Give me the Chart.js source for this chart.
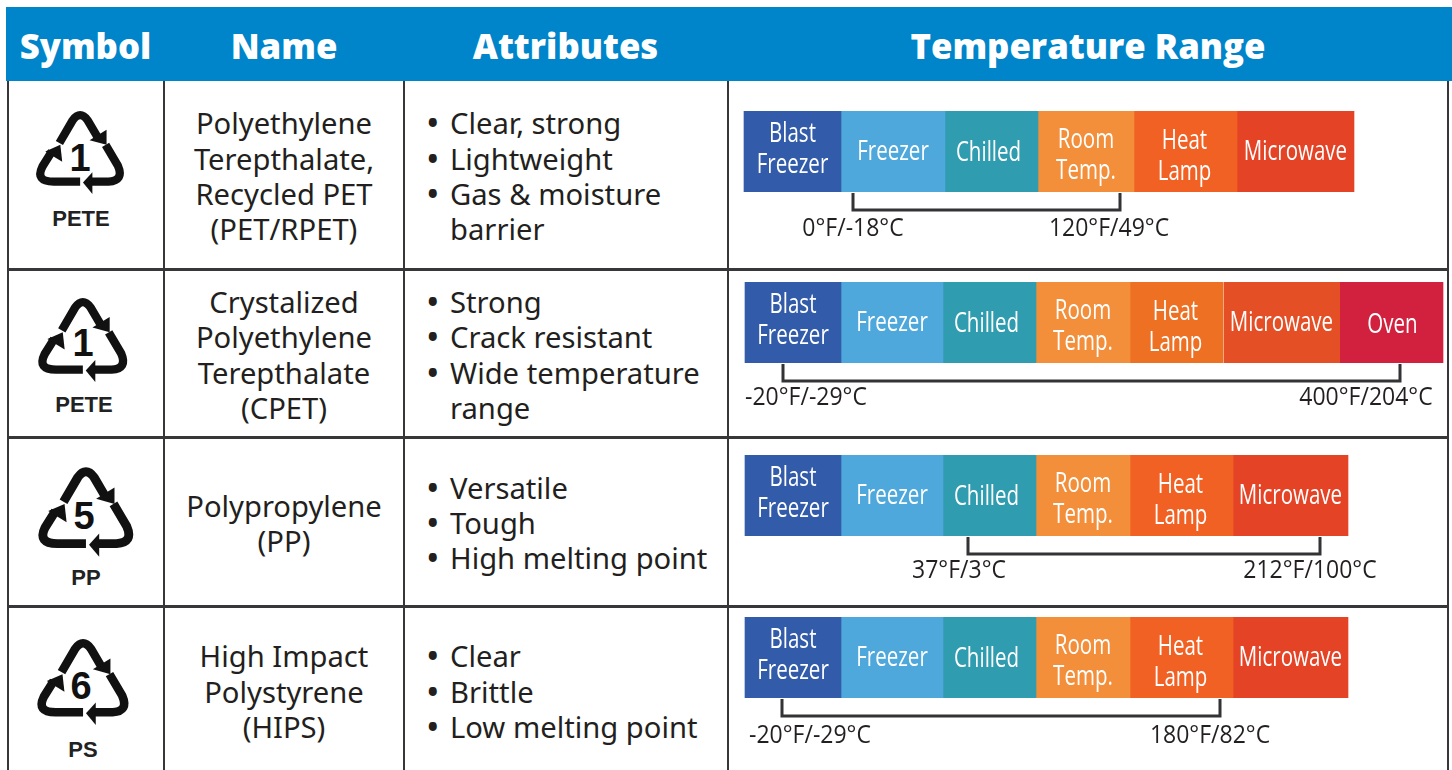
<!DOCTYPE html>
<html>
<head>
<meta charset="utf-8">
<title>Plastic temperature ranges</title>
<script src="https://cdn.jsdelivr.net/npm/chart.js@4"></script>
<style>
  html, body { margin: 0; padding: 0; background: #fff; overflow: hidden; }
  #page { position: relative; width: 1452px; height: 770px; overflow: hidden; font-family: "Noto Sans", sans-serif; color: #231f20; }
  #page div, #page canvas, #page svg { position: absolute; }
  .rule { background: #37373a; }
  .head { color: #fff; font-family: "Open Sans", sans-serif; font-weight: 800; font-size: 34.7px; line-height: 40px; height: 40px; top: 26px; white-space: nowrap; text-align: center; }
  .cell { font-size: 29.2px; line-height: 36px; height: 36px; white-space: nowrap; }
  .center { text-align: center; }
</style>
</head>
<body>
<div id="page">
  <svg width="0" height="0" style="left:0;top:0">
    <symbol id="recycle" viewBox="30 105 105 95" overflow="visible">
      <g fill="none" stroke="#111" stroke-width="8.8" stroke-linejoin="round">
        <path d="M58 144 L72 120 Q80 109 88 120 L98 137"/>
        <path d="M107 146 L120 168 Q127 184 110 185 L92 185"/>
        <path d="M80 185 L52 185 Q32 185 40 169 L50 153"/>
      </g>
      <g fill="#111">
        <path d="M108 130 L90 141 L108 146 Z"/>
        <path d="M83 186 L93 175 L93 198 Z"/>
        <path d="M43 153 L59 146 L61 164 Z"/>
      </g>
    </symbol>
  </svg>
</div>
<script>
// temperature zones, left to right
const zones = ["Blast Freezer", "Freezer", "Chilled", "Room Temp.", "Heat Lamp", "Microwave", "Oven"];
const zoneColors = ["#325ba9", "#4ea8dc", "#2f9daf", "#f38f3b", "#f16123", "#e54326", "#d2213e"];

// table columns
const headers = ["Symbol", "Name", "Attributes", "Temperature Range"];
const codes = ["1", "1", "5", "6"];
const symbolNames = ["PETE", "PETE", "PP", "PS"];
const names = [
  ["Polyethylene", "Terepthalate,", "Recycled PET", "(PET/RPET)"],
  ["Crystalized", "Polyethylene", "Terepthalate", "(CPET)"],
  ["Polypropylene", "(PP)"],
  ["High Impact", "Polystyrene", "(HIPS)"],
];
const attributes = [
  ["• Clear, strong", "• Lightweight", "• Gas & moisture", "barrier"],
  ["• Strong", "• Crack resistant", "• Wide temperature", "range"],
  ["• Versatile", "• Tough", "• High melting point"],
  ["• Clear", "• Brittle", "• Low melting point"],
];

// width of each zone in every row
const petWidths = [97, 104, 93, 96, 103, 117];
const cpetWidths = [96, 102, 93, 94, 93, 117, 103];
const ppWidths = [96, 102, 93, 94, 103, 115];
const hipsWidths = [96, 102, 93, 94, 103, 115];
const rowWidths = [petWidths, cpetWidths, ppWidths, hipsWidths];

// usable range on the same strip scale, and its end labels
const rangeStarts = [109, 38, 223, 37];
const rangeEnds = [376, 655, 575, 475];
const rangeLow = ["0°F/-18°C", "-20°F/-29°C", "37°F/3°C", "-20°F/-29°C"];
const rangeHigh = ["120°F/49°C", "400°F/204°C", "212°F/100°C", "180°F/82°C"];

// layout only
const page = document.getElementById("page");
const barTops = [111, 282, 455, 617];
const stripLefts = [744, 745, 745, 745];
const lowShift = [0, 23, -9, 28];
const highShift = [-11, -34, -10, -10];
const labelTops = [229, 398, 571, 736];
const zoneNudge = [-1.5, 0.5, 2, 4.5, 5.5, 0.5, 3];
const zoneSlide = [0, 0, -3, 0, -1, 0, 1];
const canvasLeft = 729;
const canvasWidth = 718;
const barHeight = 81;
const canvasHeight = 135;

function place(className, text, left, top, width, height) {
  const el = document.createElement("div");
  el.className = className;
  if (text) el.textContent = text;
  el.style.left = left + "px";
  el.style.top = top + "px";
  if (width) el.style.width = width + "px";
  if (height) el.style.height = height + "px";
  page.appendChild(el);
  return el;
}

function drawTable() {
  const head = place("", "", 6, 7, 1446, 74);
  head.style.background = "#0085ca";
  place("head center", headers[0], 7, 26, 157);
  place("head center", headers[1], 164, 26, 240);
  place("head center", headers[2], 404, 26, 323);
  place("head center", headers[3], 728, 26, 720);

  [7, 163, 403, 727, 1447].forEach((x) => place("rule", "", x, 81, 2, 689));
  [268, 436, 605].forEach((y) => place("rule", "", 7, y, 1442, 2.5));

  const nameTops = [
    [123, 159, 194, 229],
    [302, 337, 373, 408],
    [506, 541],
    [656, 692, 727],
  ];
  const attributeTops = [
    [123, 159, 194, 229],
    [302, 337, 373, 408],
    [488, 523, 558],
    [656, 692, 727],
  ];
  names.forEach((lines, r) => {
    lines.forEach((line, i) => place("cell center", line, 164, nameTops[r][i] - 18.5, 240));
  });
  attributes.forEach((lines, r) => {
    lines.forEach((line, i) => {
      const top = attributeTops[r][i] - 18.5;
      if (line.startsWith("• ")) {
        const dot = place("cell", "•", 426, top);
        dot.style.fontSize = "36px";
      }
      place("cell", line.replace("• ", ""), 450, top);
    });
  });
}

function drawSymbols() {
  const boxes = [
    [33, 105.8, 99, 90, 80, 158, 81, 219],
    [35, 292.6, 100.5, 91, 83, 343, 84, 405],
    [34.6, 461.5, 107, 97, 84, 516, 86, 578],
    [33.8, 633.6, 103, 93, 81, 686, 83, 750],
  ];
  boxes.forEach((b, r) => {
    const svg = document.createElementNS("http://www.w3.org/2000/svg", "svg");
    svg.setAttribute("width", b[2]);
    svg.setAttribute("height", b[3]);
    svg.style.left = b[0] + "px";
    svg.style.top = b[1] + "px";
    svg.style.overflow = "visible";
    const use = document.createElementNS("http://www.w3.org/2000/svg", "use");
    use.setAttribute("href", "#recycle");
    svg.appendChild(use);
    page.appendChild(svg);

    const code = place("", codes[r], b[4] - 30, b[5] - 24, 60, 48);
    code.style.cssText += "text-align:center;font:bold 38px/48px 'Liberation Sans',sans-serif;color:#111;";
    const name = place("", symbolNames[r], b[6] - 50, b[7] - 13, 100, 26);
    name.style.cssText += "text-align:center;font:bold 22px/26px 'Liberation Sans',sans-serif;color:#222;";
  });
}

// writes the zone names into the bars and the bracket under them
const stripPlugin = {
  id: "strip",
  afterDraw(chart, args, opts) {
    const ctx = chart.ctx;
    const x = chart.scales.x;
    const area = chart.chartArea;
    const r = opts.row;

    ctx.save();
    ctx.fillStyle = "#fff";
    ctx.textAlign = "center";
    ctx.textBaseline = "middle";
    ctx.font = "27px 'Open Sans', sans-serif";
    chart.data.datasets.forEach((ds, i) => {
      const bar = chart.getDatasetMeta(i).data[0];
      const mid = (bar.x + bar.base) / 2 + zoneSlide[i];
      const cy = (area.top + area.bottom) / 2 + zoneNudge[i];
      const parts = ds.label.split(" ");
      parts.forEach((part, n) => {
        ctx.save();
        ctx.translate(mid, cy + (n - (parts.length - 1) / 2) * 31.5);
        ctx.scale(0.76, 1);
        ctx.fillText(part, 0, 0);
        ctx.restore();
      });
    });

    const x1 = x.getPixelForValue(rangeStarts[r]);
    const x2 = x.getPixelForValue(rangeEnds[r]);
    ctx.strokeStyle = "#333336";
    ctx.lineWidth = 3;
    ctx.beginPath();
    ctx.moveTo(x1, area.bottom + 1);
    ctx.lineTo(x1, area.bottom + 18);
    ctx.lineTo(x2, area.bottom + 18);
    ctx.lineTo(x2, area.bottom + 1);
    ctx.stroke();

    ctx.fillStyle = "#231f20";
    ctx.font = "25px 'Open Sans', sans-serif";
    const labelY = labelTops[r] - barTops[r];
    [[rangeLow[r], x1 + lowShift[r]], [rangeHigh[r], x2 + highShift[r]]].forEach((item) => {
      ctx.save();
      ctx.translate(item[1], labelY);
      ctx.scale(0.92, 1);
      ctx.fillText(item[0], 0, 0);
      ctx.restore();
    });
    ctx.restore();
  },
};

function drawStrip(r) {
  const canvas = document.createElement("canvas");
  canvas.width = canvasWidth;
  canvas.height = canvasHeight;
  canvas.style.left = canvasLeft + "px";
  canvas.style.top = barTops[r] + "px";
  canvas.style.width = canvasWidth + "px";
  canvas.style.height = canvasHeight + "px";
  page.appendChild(canvas);

  const datasets = rowWidths[r].map((w, i) => {
    const ds = {
      label: zones[i],
      data: [w],
      backgroundColor: zoneColors[i],
      barPercentage: 1,
      categoryPercentage: 1,
      borderWidth: 0,
    };
    // the CPET row has its warm colours a little different
    if (r === 1 && i === 4) ds.backgroundColor = "#ee7023";
    if (r === 1 && i === 5) {
      ds.backgroundColor = "#e44f26";
      ds.borderColor = "#fff";
      ds.borderSkipped = false;
      ds.borderWidth = { left: 1, right: 0, top: 0, bottom: 0 };
    }
    return ds;
  });

  const inset = stripLefts[r] - canvasLeft;
  new Chart(canvas.getContext("2d"), {
    type: "bar",
    data: { labels: [names[r].join(" ")], datasets: datasets },
    options: {
      indexAxis: "y",
      responsive: false,
      animation: false,
      devicePixelRatio: window.devicePixelRatio,
      layout: { padding: { left: 0, right: 0, top: 0, bottom: canvasHeight - barHeight } },
      scales: {
        x: { stacked: true, display: false, min: -inset, max: canvasWidth - inset },
        y: { stacked: true, display: false },
      },
      plugins: {
        legend: { display: false },
        tooltip: { enabled: false },
        strip: { row: r },
      },
    },
    plugins: [stripPlugin],
  });
}

drawTable();
drawSymbols();
rowWidths.forEach((w, r) => drawStrip(r));
</script>
</body>
</html>
